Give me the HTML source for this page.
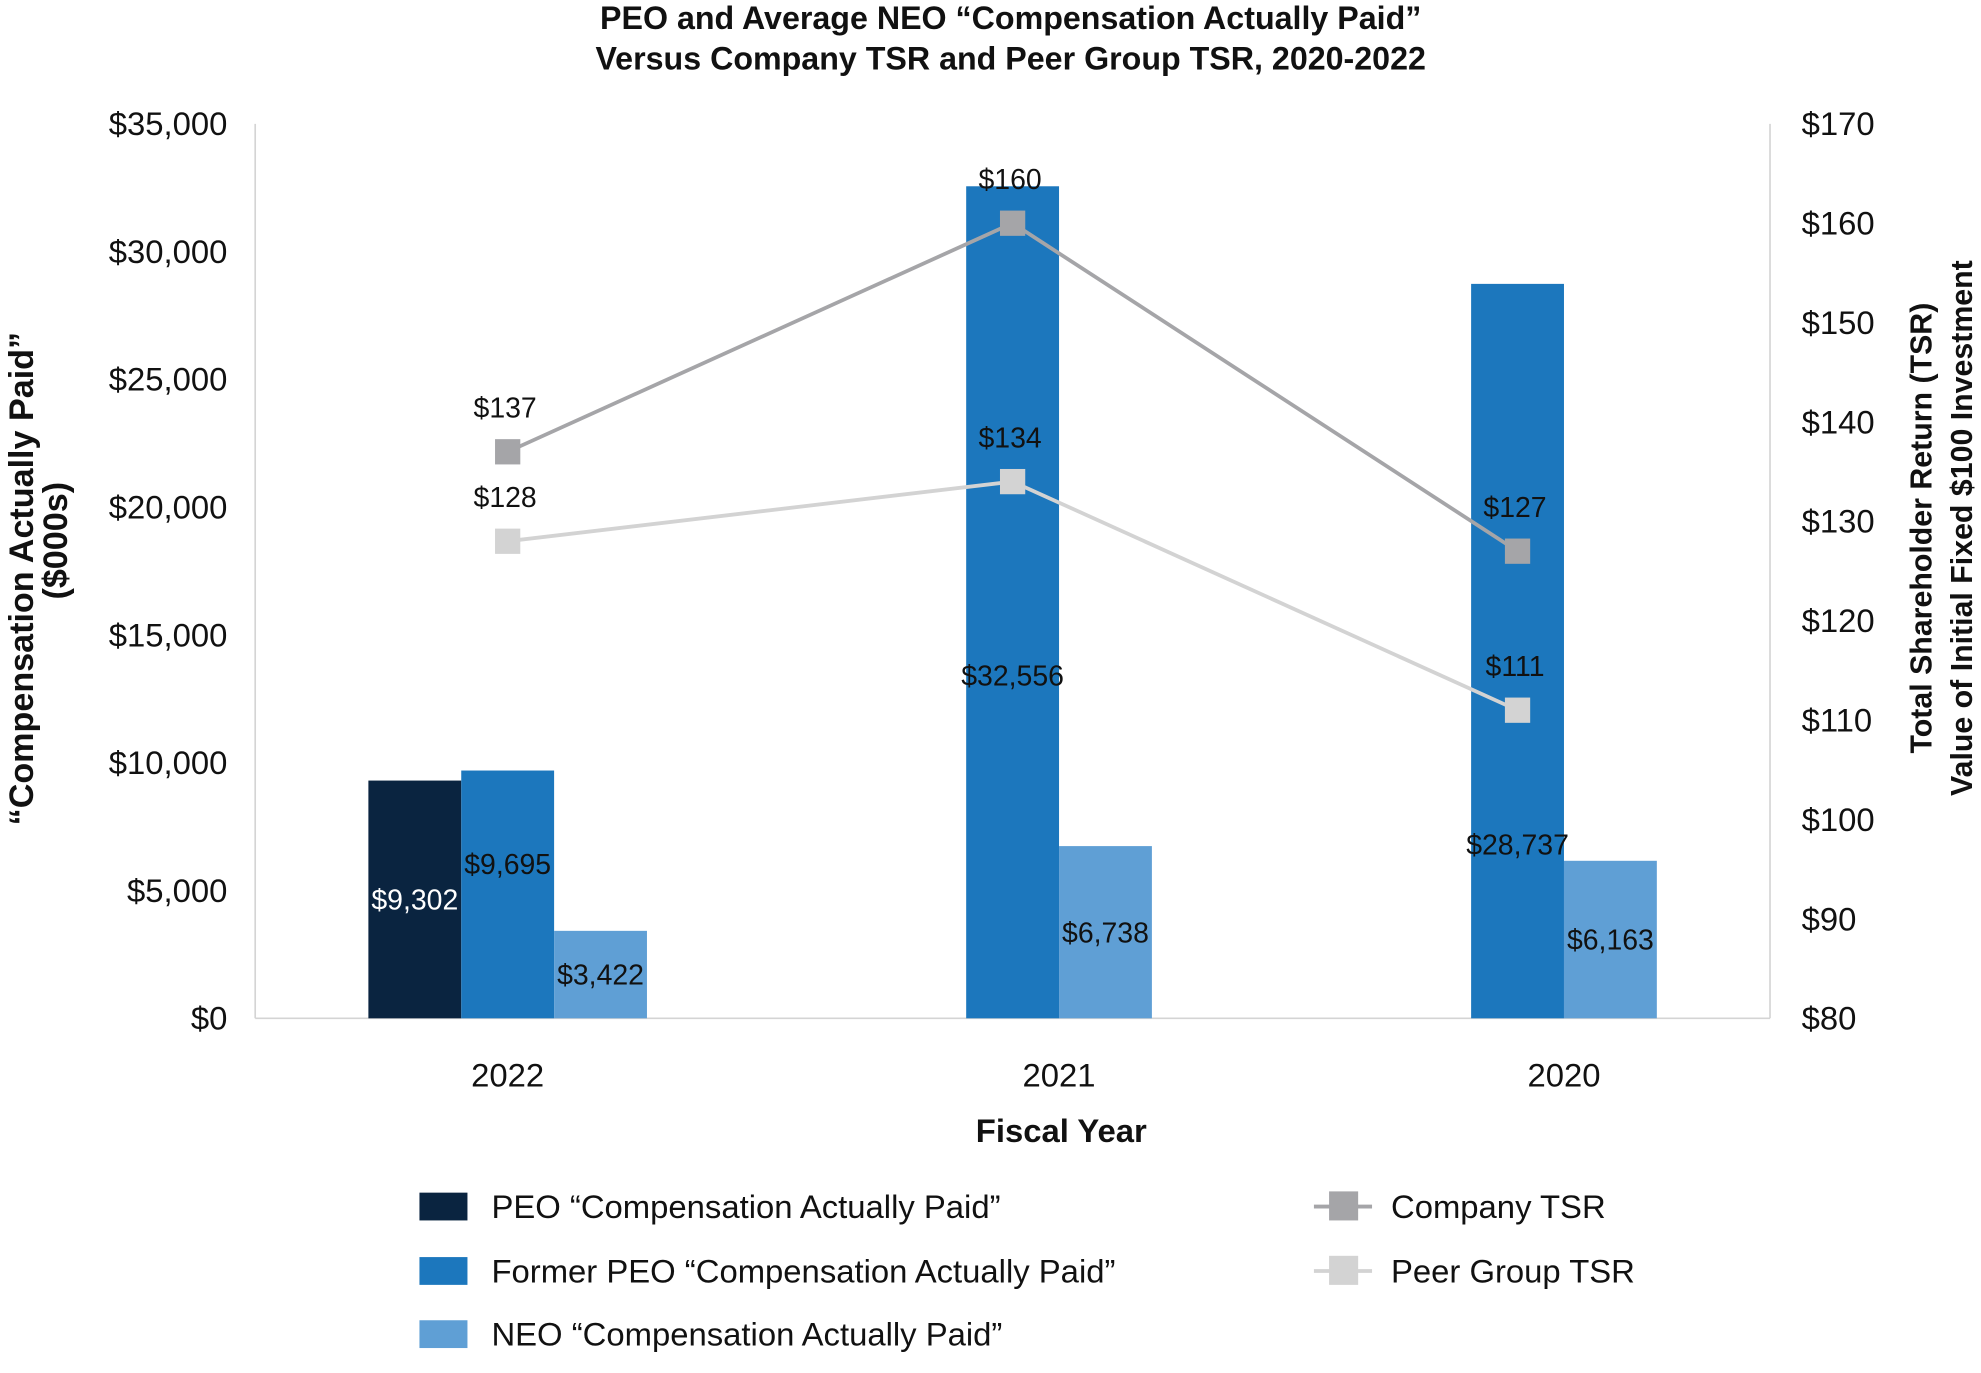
<!DOCTYPE html>
<html><head><meta charset="utf-8">
<style>
html,body{margin:0;padding:0;background:#fff;}
svg{display:block;font-family:"Liberation Sans",Arial,sans-serif;}
</style></head>
<body>
<svg id="chart" width="1981" height="1373" viewBox="0 0 1568 1086.75" xmlns="http://www.w3.org/2000/svg">
  <g font-weight="bold" font-size="25.5" text-anchor="middle" fill="#111">
    <text x="800" y="23">PEO and Average NEO “Compensation Actually Paid”</text>
    <text x="800" y="55">Versus Company TSR and Peer Group TSR, 2020-2022</text>
  </g>
  <g id="axes"></g>
  <g id="bars"></g>
  <g id="lines"></g>
  <g id="labels"></g>
  <text x="840" y="904" font-size="26" font-weight="bold" text-anchor="middle" fill="#111">Fiscal Year</text>
  <g font-size="27" font-weight="bold" text-anchor="middle" fill="#111">
    <text transform="translate(26,458) rotate(-90)">“Compensation Actually Paid”</text>
    <text transform="translate(53,428) rotate(-90)">($000s)</text>
  </g>
  <g font-size="24" font-weight="bold" text-anchor="middle" fill="#111">
    <text transform="translate(1529,418) rotate(-90)">Total Shareholder Return (TSR)</text>
    <text transform="translate(1561,418) rotate(-90)">Value of Initial Fixed $100 Investment</text>
  </g>
  <g font-size="26" fill="#111">
    <g>
      <rect x="332" y="944" width="38" height="22" fill="#0a2440"/>
      <text x="389" y="964">PEO “Compensation Actually Paid”</text>
    </g>
    <g>
      <rect x="332" y="995" width="38" height="22" fill="#1c77bd"/>
      <text x="389" y="1015">Former PEO “Compensation Actually Paid”</text>
    </g>
    <g>
      <rect x="332" y="1045" width="38" height="22" fill="#5f9fd5"/>
      <text x="389" y="1065">NEO “Compensation Actually Paid”</text>
    </g>
    <g>
      <line x1="1040" y1="955" x2="1086" y2="955" stroke="#a5a5a8" stroke-width="3"/>
      <rect x="1052" y="943" width="23" height="23" fill="#a5a5a8"/>
      <text x="1101" y="964">Company TSR</text>
    </g>
    <g>
      <line x1="1040" y1="1006" x2="1086" y2="1006" stroke="#d3d3d3" stroke-width="3"/>
      <rect x="1052" y="994" width="23" height="23" fill="#d3d3d3"/>
      <text x="1101" y="1015">Peer Group TSR</text>
    </g>
  </g>
</svg>
<script>
const categories = ["2022", "2021", "2020"];
const peoValues = [9302, null, null];
const formerPeoValues = [9695, 32556, 28737];
const neoValues = [3422, 6738, 6163];
const companyTsr = [137, 160, 127];
const peerTsr = [128, 134, 111];
const leftTicks = [0, 5000, 10000, 15000, 20000, 25000, 30000, 35000];
const rightTicks = [80, 90, 100, 110, 120, 130, 140, 150, 160, 170];

const NS = "http://www.w3.org/2000/svg";
const plotL = 202, plotR = 1401, plotT = 98, plotB = 806;
const yL = v => plotB - (v / 35000) * (plotB - plotT);
const yR = v => plotB - ((v - 80) / 90) * (plotB - plotT);
const bandW = (plotR - plotL) / categories.length;
const xC = i => plotL + bandW * (i + 0.5);
const barW = 73.5;
function mk(tag, attrs, parent) {
  const e = document.createElementNS(NS, tag);
  for (const k in attrs) e.setAttribute(k, attrs[k]);
  parent.appendChild(e);
  return e;
}
const fmt = v => "$" + v.toLocaleString("en-US");

const axes = document.getElementById("axes");
let a = mk("line", {x1: plotL, y1: plotT, x2: plotL, y2: plotB, stroke: "#d4d4d4", "stroke-width": 1.3}, axes);


a = mk("line", {x1: plotR, y1: plotT, x2: plotR, y2: plotB, stroke: "#d4d4d4", "stroke-width": 1.3}, axes);


a = mk("line", {x1: plotL, y1: plotB, x2: plotR, y2: plotB, stroke: "#d4d4d4", "stroke-width": 1.3}, axes);


leftTicks.forEach(v => {
  const t = mk("text", {x: 180, y: yL(v) + 9, "font-size": 26, "text-anchor": "end", fill: "#111"}, axes);
  t.textContent = fmt(v);
  
  
});
rightTicks.forEach(v => {
  const t = mk("text", {x: 1426, y: yR(v) + 9, "font-size": 26, "text-anchor": "start", fill: "#111"}, axes);
  t.textContent = fmt(v);
  
  
});

const bars = document.getElementById("bars");
const labels = document.getElementById("labels");
const series = [
  {vals: peoValues, color: "#0a2440", name: "peo", txt: "#fff"},
  {vals: formerPeoValues, color: "#1c77bd", name: "former-peo", txt: "#111"},
  {vals: neoValues, color: "#5f9fd5", name: "neo", txt: "#111"}
];
const labelShift = {"former-peo": [-24, 58, 153]};
categories.forEach((c, i) => {
  let minX = Infinity, maxX = -Infinity;
  series.forEach((s, si) => {
    const v = s.vals[i];
    if (v == null) return;
    const x0 = xC(i) + (si - 1.5) * barW;
    minX = Math.min(minX, x0); maxX = Math.max(maxX, x0 + barW);
    const r = mk("rect", {x: x0, y: yL(v), width: barW, height: plotB - yL(v), fill: s.color}, bars);
    
    
    const sh = (labelShift[s.name] || [])[i] || 0;
    const ly = (yL(v) + plotB) / 2 + sh;
    const t = mk("text", {x: x0 + barW / 2, y: ly + 8, "font-size": 22.5, "text-anchor": "middle", fill: s.txt}, labels);
    t.textContent = fmt(v);
    
    
  });
  const t = mk("text", {x: (minX + maxX) / 2, y: 860, "font-size": 26, "text-anchor": "middle", fill: "#111"}, axes);
  t.textContent = c;
  
  
});

const lines = document.getElementById("lines");
const lineSeries = [
  {vals: peerTsr, color: "#d3d3d3", name: "peer-tsr"},
  {vals: companyTsr, color: "#a5a5a8", name: "company-tsr"}
];
lineSeries.forEach(s => {
  const pts = s.vals.map((v, i) => xC(i) + "," + yR(v)).join(" ");
  const pl = mk("polyline", {points: pts, fill: "none", stroke: s.color, "stroke-width": 3}, lines);
  
  
  s.vals.forEach((v, i) => {
    const m = mk("rect", {x: xC(i) - 10, y: yR(v) - 10, width: 20, height: 20, fill: s.color}, lines);
    
    
    const t = mk("text", {x: xC(i) - 2, y: yR(v) - 27, "font-size": 22.5, "text-anchor": "middle", fill: "#111"}, labels);
    t.textContent = fmt(v);
    
    
  });
});
</script>
</body></html>
